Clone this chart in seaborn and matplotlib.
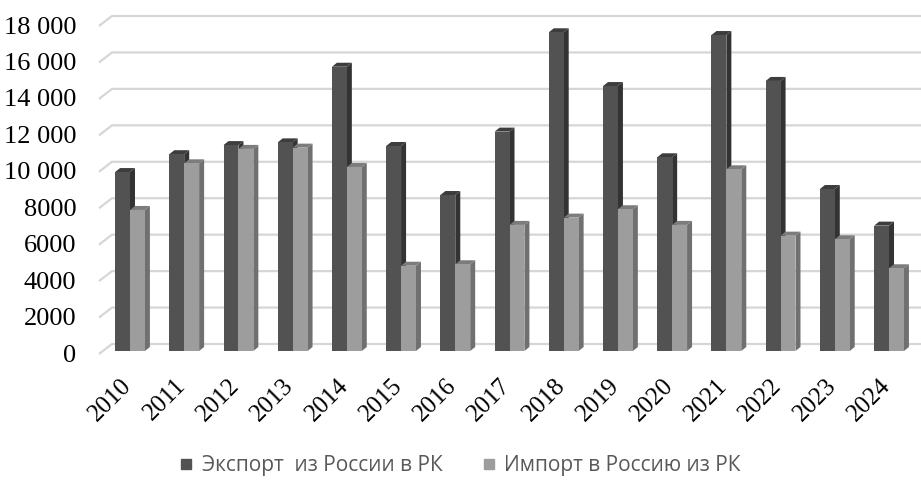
import pandas as pd
import matplotlib.pyplot as plt
import matplotlib.transforms as mtransforms
import seaborn as sns
import numpy as np
from matplotlib.patches import Polygon
from matplotlib.lines import Line2D

# ---------------------------
# Data
# ---------------------------
years = ['2010', '2011', '2012', '2013', '2014', '2015', '2016', '2017',
         '2018', '2019', '2020', '2021', '2022', '2023', '2024']
export_vals = [9820, 10800, 11300, 11450, 15600, 11250, 8560, 12040,
               17490, 14540, 10630, 17340, 14820, 8890, 6880]
import_vals = [7740, 10300, 11090, 11160, 10100, 4680, 4760, 6920,
               7320, 7780, 6920, 9970, 6330, 6130, 4540]
series_names = ['Экспорт  из России в РК', 'Импорт в Россию из РК']
y_ticks = [0, 2000, 4000, 6000, 8000, 10000, 12000, 14000, 16000, 18000]
y_tick_labels = ['0', '2000', '4000', '6000', '8000',
                 '10 000', '12 000', '14 000', '16 000', '18 000']

df = pd.DataFrame({
    'year': years * 2,
    'value': export_vals + import_vals,
    'series': [series_names[0]] * len(years) + [series_names[1]] * len(years),
})

front = ['#525252', '#9d9d9d']
side = ['#333333', '#707070']
top = ['#3d3d3d', '#7c7c7c']

W, H = 921, 484
fig = plt.figure(figsize=(W / 100, H / 100), dpi=100)
ax = fig.add_axes([98 / W, 133 / H, (W - 98) / W, 328 / H])

sns.barplot(data=df, x='year', y='value', hue='series', palette=front,
            width=0.55, saturation=1, legend=False, ax=ax, zorder=4,
            linewidth=0)
ax.set_xlim(-0.59, 14.59)
ax.set_ylim(0, 18000)

# pixel -> data helpers
px_x = (14.59 + 0.59) / (W - 98)
px_y = 18000 / 328

# ---------------------------
# Back wall grid lines
# ---------------------------
x0, x1 = ax.get_xlim()
for v in y_ticks:
    yb = v + 7 * px_y
    ax.plot([x0 + 1 * px_x, x0 + 14 * px_x, x1], [yb - 10 * px_y, yb, yb],
            color='#d6d6d6', lw=1.6, zorder=1, clip_on=False,
            solid_capstyle='butt')

# ---------------------------
# 3D faces for every bar
# ---------------------------
dx, dy = 5 * px_x, 4 * px_y
for i, bar in enumerate(ax.patches):
    k = 0 if i < len(years) else 1
    bx, bw, bh = bar.get_x(), bar.get_width(), bar.get_height()
    ax.add_patch(Polygon([(bx + bw, 0), (bx + bw + dx, dy), (bx + bw + dx, bh + dy), (bx + bw, bh)],
                         closed=True, facecolor=side[k], edgecolor='none', zorder=2, clip_on=False))
    ax.add_patch(Polygon([(bx, bh), (bx + bw, bh), (bx + bw + dx, bh + dy), (bx + dx, bh + dy)],
                         closed=True, facecolor=top[k], edgecolor='none', zorder=3, clip_on=False))

# ---------------------------
# Axes styling
# ---------------------------
for s in ax.spines.values():
    s.set_visible(False)
ax.set_xlabel('')
ax.set_ylabel('')
ax.set_yticks(y_ticks)
ax.set_yticklabels(y_tick_labels, fontsize=19, family='Liberation Serif')
ax.tick_params(axis='y', length=0, pad=15.5)
ax.tick_params(axis='x', length=0, pad=17)
plt.setp(ax.get_xticklabels(), rotation=45, ha='right', rotation_mode='anchor',
         fontsize=18, family='Liberation Serif')
shift_x = mtransforms.ScaledTranslation(-10 / 100, 0, fig.dpi_scale_trans)
for lab in ax.get_xticklabels():
    lab.set_transform(lab.get_transform() + shift_x)
shift_y = mtransforms.ScaledTranslation(0, -2 / 100, fig.dpi_scale_trans)
for lab in ax.get_yticklabels():
    lab.set_transform(lab.get_transform() + shift_y)
ax.patch.set_visible(False)

handles = [Line2D([], [], marker='s', ls='none', color=c, markersize=7.5) for c in front]
fig.legend(handles, series_names, loc='center', bbox_to_anchor=(0.5, 1 - 466 / H),
           ncol=2, frameon=False, handlelength=0.6, handletextpad=0.45,
           columnspacing=1.9, labelcolor='#595959',
           prop={'family': 'Open Sans', 'size': 15})

fig.savefig('out.png', dpi=100)
